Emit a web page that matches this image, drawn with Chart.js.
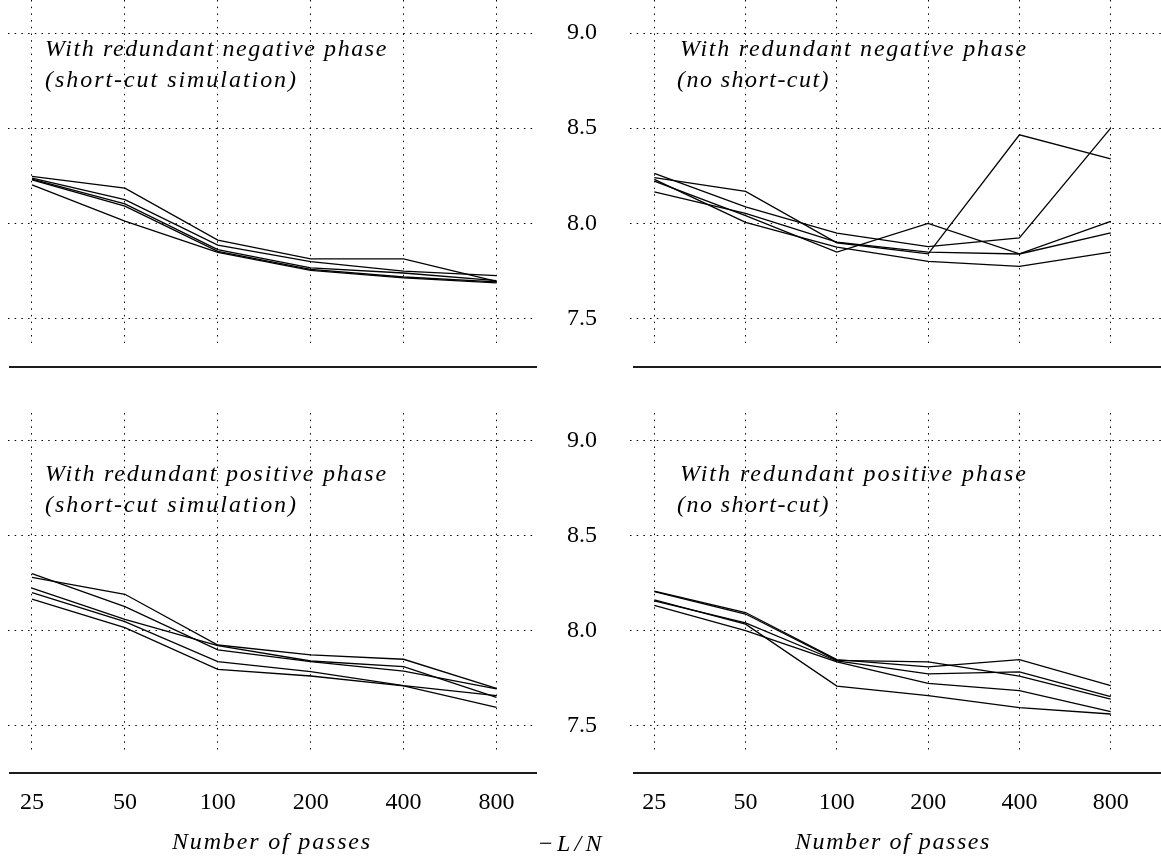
<!DOCTYPE html>
<html><head><meta charset="utf-8">
<script src="https://cdn.jsdelivr.net/npm/chart.js@4.4.1/dist/chart.umd.min.js"></script>
<style>
html,body{margin:0;padding:0;background:#fff;}
body{width:1161px;height:865px;position:relative;overflow:hidden;}
canvas{position:absolute;display:block;}
.note{position:absolute;font-family:"Liberation Serif",serif;font-style:italic;font-size:24px;line-height:26px;white-space:nowrap;color:#000;}
.rule{position:absolute;height:0;border-top:2px solid #1c1c1c;}
</style></head><body>
<canvas id="tl" width="529" height="343" style="left:8px;top:0px"></canvas>
<canvas id="tr" width="621" height="343" style="left:540px;top:0px"></canvas>
<canvas id="bl" width="529" height="419" style="left:8px;top:413px"></canvas>
<canvas id="br" width="621" height="419" style="left:540px;top:413px"></canvas>

<div class="rule" style="left:9px;top:366px;width:528px"></div>
<div class="rule" style="left:633px;top:366px;width:528px"></div>
<div class="rule" style="left:9px;top:772px;width:528px"></div>
<div class="rule" style="left:633px;top:772px;width:528px"></div>

<div class="note" data-w="343" style="left:45px;top:35px">With redundant negative phase</div>
<div class="note" data-w="253" style="left:45px;top:66px">(short-cut simulation)</div>
<div class="note" data-w="348" style="left:680px;top:35px">With redundant negative phase</div>
<div class="note" data-w="153" style="left:677px;top:66px">(no short-cut)</div>
<div class="note" data-w="343" style="left:45px;top:460px">With redundant positive phase</div>
<div class="note" data-w="253" style="left:45px;top:491px">(short-cut simulation)</div>
<div class="note" data-w="348" style="left:680px;top:460px">With redundant positive phase</div>
<div class="note" data-w="153" style="left:677px;top:491px">(no short-cut)</div>
<div class="note" data-w="200" style="left:172px;top:828px">Number of passes</div>
<div class="note" data-w="196" style="left:795px;top:828px">Number of passes</div>
<div class="note" data-w="67" style="left:539px;top:830px"><span style="font-style:normal">−</span>L/N</div>

<script>
// ---- data ----
const passes = ['25', '50', '100', '200', '400', '800'];
const yTickValues = [7.5, 8.0, 8.5, 9.0];

// With redundant negative phase (short-cut simulation)
const negShortcut = [
  [8.247, 8.185, 7.912, 7.813, 7.813, 7.695],
  [8.237, 8.125, 7.886, 7.799, 7.749, 7.725],
  [8.232, 8.102, 7.862, 7.766, 7.739, 7.699],
  [8.228, 8.090, 7.853, 7.758, 7.718, 7.692],
  [8.202, 8.012, 7.848, 7.753, 7.713, 7.687]
];
// With redundant negative phase (no short-cut)
const negNoShortcut = [
  [8.240, 8.168, 7.898, 7.840, 8.465, 8.339],
  [8.262, 8.087, 7.948, 7.878, 7.924, 8.500],
  [8.222, 8.040, 7.849, 8.000, 7.840, 8.010],
  [8.165, 8.052, 7.901, 7.849, 7.839, 7.950],
  [8.231, 8.005, 7.875, 7.800, 7.774, 7.849]
];
// With redundant positive phase (short-cut simulation)
const posShortcut = [
  [8.282, 8.193, 7.926, 7.874, 7.851, 7.698],
  [8.302, 8.128, 7.900, 7.839, 7.789, 7.695],
  [8.226, 8.061, 7.923, 7.842, 7.812, 7.651],
  [8.202, 8.049, 7.839, 7.786, 7.712, 7.660],
  [8.167, 8.018, 7.798, 7.763, 7.711, 7.598]
];
// With redundant positive phase (no short-cut)
const posNoShortcut = [
  [8.210, 8.097, 7.849, 7.811, 7.849, 7.712],
  [8.207, 8.089, 7.845, 7.837, 7.762, 7.641],
  [8.158, 8.042, 7.842, 7.774, 7.785, 7.655],
  [8.163, 8.036, 7.710, 7.660, 7.597, 7.563],
  [8.135, 8.002, 7.837, 7.724, 7.686, 7.575]
];

// ---- drawing ----
const DOT = [1.5, 5.2];
function zeroPad(s) { s.paddingTop = 0; s.paddingBottom = 0; s.paddingLeft = 0; s.paddingRight = 0; }
function makeChart(id, runs, o) {
  return new Chart(document.getElementById(id), {
    type: 'line',
    data: {
      datasets: runs.map(r => ({
        data: r.map((v, i) => ({ x: i, y: v })),
        borderColor: '#000', borderWidth: 1.3,
        pointRadius: 0, tension: 0, fill: false
      }))
    },
    options: {
      responsive: false, animation: false, events: [],
      layout: { padding: 0, autoPadding: false },
      plugins: { legend: { display: false }, tooltip: { enabled: false } },
      scales: {
        x: {
          type: 'linear', min: o.xmin, max: o.xmax,
          afterBuildTicks: s => { s.ticks = passes.map((p, i) => ({ value: i })); },
          afterFit: s => { s.height = o.xh; zeroPad(s); },
          ticks: {
            display: o.showX, autoSkip: false, maxRotation: 0,
            callback: v => passes[v], color: '#000', padding: 36,
            font: { family: 'Liberation Serif', size: 24 }
          },
          grid: { color: '#000', lineWidth: 1, drawTicks: false },
          border: { display: false, dash: DOT }
        },
        y: {
          min: o.ymin, max: o.ymax,
          afterBuildTicks: s => { s.ticks = yTickValues.map(v => ({ value: v })); },
          afterFit: s => { s.width = o.yw; zeroPad(s); },
          ticks: {
            display: o.showY, callback: v => v.toFixed(1), color: '#000', padding: 33,
            font: { family: 'Liberation Serif', size: 24 }
          },
          grid: { color: '#000', lineWidth: 1, drawTicks: false },
          border: { display: false, dash: DOT }
        }
      }
    }
  });
}

const L = { xmin: -0.2583, xmax: 5.436, yw: 0, showY: false };
const R = { xmin: -0.266, xmax: 5.551, yw: 90, showY: true };
const T = { ymin: 7.3713, ymax: 9.1734, xh: 0, showX: false };
const B = { ymin: 7.363, ymax: 9.147, xh: 80, showX: true };

function fitNotes() {
  document.querySelectorAll('.note').forEach(el => {
    const target = +el.dataset.w;
    const n = el.textContent.length;
    const w = el.getBoundingClientRect().width;
    el.style.letterSpacing = ((target - w) / n) + 'px';
  });
}

function draw() {
  makeChart('tl', negShortcut, Object.assign({}, L, T));
  makeChart('tr', negNoShortcut, Object.assign({}, R, T));
  makeChart('bl', posShortcut, Object.assign({}, L, B));
  makeChart('br', posNoShortcut, Object.assign({}, R, B));
  fitNotes();
}
if (document.fonts && document.fonts.ready) {
  document.fonts.load('24px "Liberation Serif"').then(() => document.fonts.load('italic 24px "Liberation Serif"')).then(draw, draw);
} else { draw(); }
</script>
</body></html>
